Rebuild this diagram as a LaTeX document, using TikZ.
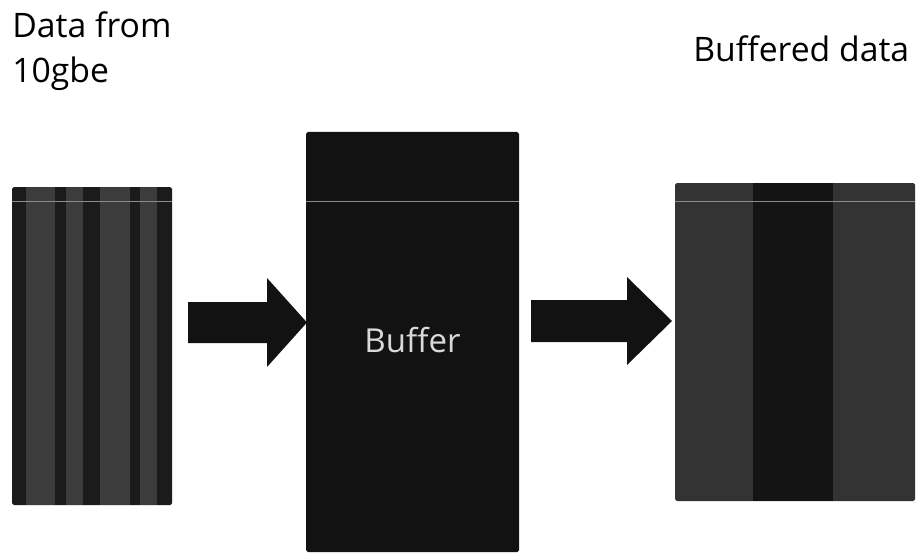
\documentclass[tikz,border=0pt]{standalone}
\usepackage{fontspec}
\setmainfont{Open Sans}
\usetikzlibrary{positioning}

\definecolor{inkdark}{HTML}{1B1B1B}
\definecolor{inkgray}{HTML}{3C3C3C}
\definecolor{inkblack}{HTML}{121212}
\definecolor{scanline}{HTML}{8C8C8C}

\tikzset{
  caption/.style={font=\fontsize{19.2}{23}\selectfont, inner sep=0pt, text=black},
  darkband/.style={fill=inkdark},
  grayband/.style={fill=inkgray},
  blockarrow/.style={fill=inkblack},
  seam/.style={draw=scanline, line width=0.5pt},
}

\begin{document}
\begin{tikzpicture}[x=0.02cm,y=-0.02cm]
  \useasboundingbox (0,0) rectangle (916,554);

  % headings
  \node[caption, anchor=base west] (srctop) at (12,38) {Data from};
  \node[caption, anchor=base west] (srcbot) at (12,83) {10gbe};
  \node[caption, anchor=base west] (outlbl) at (693,62) {Buffered data};

  % incoming packets: narrow stripes
  \fill[darkband, rounded corners=1pt] (12,187) rectangle (172,505);
  \foreach \a/\b in {26/55, 66/83, 100/130, 140/157}
    \fill[grayband] (\a,187) rectangle (\b,505);
  \draw[seam] (12,201.5) -- (172,201.5);

  % the buffer
  \fill[inkblack, rounded corners=1pt] (306,132) rectangle (519,552);
  \draw[seam] (306,201) -- (519,201);
  \node[text=black!15, font=\fontsize{18.8}{22}\selectfont] (buffer) at (412.5,340) {Buffer};

  % buffered output: wide stripes
  \fill[grayband, fill=black!80, rounded corners=1pt] (675,183) rectangle (915,501);
  \fill[darkband, fill=black!92] (753,183) rectangle (833,501);
  \draw[seam] (675,201) -- (915,201);

  % arrows
  \fill[blockarrow] (188,302) -- (267,302) -- (267,278) -- (307,322.5)
    -- (267,367) -- (267,343) -- (188,343) -- cycle;
  \fill[blockarrow] (531,300) -- (627,300) -- (627,277) -- (672,321)
    -- (627,365) -- (627,342) -- (531,342) -- cycle;
\end{tikzpicture}
\end{document}
